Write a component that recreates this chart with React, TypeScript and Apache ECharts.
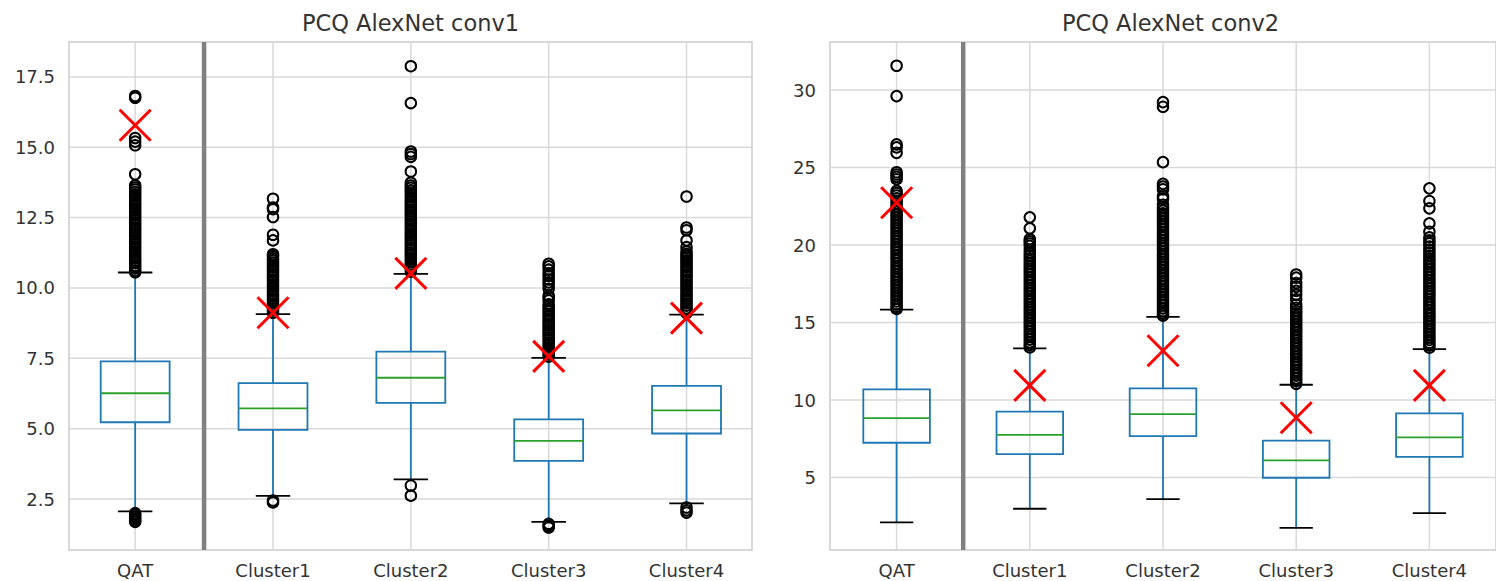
import React, { useEffect, useRef } from "react";
import * as echarts from "echarts";

const FONT = "DejaVu Sans";
const categories = ["QAT", "Cluster1", "Cluster2", "Cluster3", "Cluster4"];
const positions = [1, 2, 3, 4, 5];

const conv1Title = "PCQ AlexNet conv1";
const conv2Title = "PCQ AlexNet conv2";
const conv1Ticks = [2.5, 5, 7.5, 10, 12.5, 15, 17.5];
const conv2Ticks = [5, 10, 15, 20, 25, 30];

// [lower whisker, Q1, median, Q3, upper whisker]
const conv1Boxes = [
  [2.06, 5.23, 6.26, 7.39, 10.55],
  [2.61, 4.96, 5.72, 6.62, 9.07],
  [3.2, 5.92, 6.81, 7.74, 10.5],
  [1.69, 3.86, 4.57, 5.33, 7.52],
  [2.35, 4.83, 5.65, 6.52, 9.05],
];
const conv1Means = [15.78, 9.12, 10.52, 7.57, 8.93];

const conv1QatOut = [16.82, 16.76, 15.33, 15.2, 15.07, 14.04, 13.64, 13.57, 13.5, 13.41, 13.33, 13.26, 13.17, 13.09, 13.0, 12.92, 12.83, 12.75, 12.66, 12.58, 12.49, 12.41, 12.32, 12.24, 12.15, 12.07, 11.98, 11.9, 11.81, 11.73, 11.64, 11.56, 11.47, 11.39, 11.3, 11.22, 11.13, 11.05, 10.96, 10.88, 10.79, 10.71, 10.62, 10.56, 2.0, 1.94, 1.87, 1.81, 1.75, 1.69];
const conv1C1Out = [13.17, 12.86, 12.8, 12.52, 11.89, 11.69, 11.2, 11.13, 11.05, 10.98, 10.9, 10.81, 10.73, 10.64, 10.56, 10.47, 10.39, 10.3, 10.22, 10.13, 10.05, 9.96, 9.88, 9.79, 9.71, 9.62, 9.54, 9.45, 9.37, 9.28, 9.2, 9.12, 2.45, 2.38];
const conv1C2Out = [17.88, 16.57, 14.85, 14.76, 14.66, 14.14, 13.74, 13.64, 13.56, 13.47, 13.39, 13.3, 13.22, 13.13, 13.05, 12.96, 12.88, 12.79, 12.71, 12.62, 12.54, 12.45, 12.37, 12.28, 12.2, 12.11, 12.03, 11.94, 11.86, 11.77, 11.69, 11.6, 11.52, 11.43, 11.35, 11.26, 11.18, 11.09, 11.01, 10.92, 10.84, 10.75, 10.67, 10.58, 2.98, 2.62];
const conv1C3Out = [10.86, 10.77, 10.65, 10.52, 10.43, 10.3, 10.2, 10.1, 9.97, 9.73, 9.66, 9.56, 9.42, 9.34, 9.25, 9.17, 9.08, 9.0, 8.91, 8.83, 8.74, 8.66, 8.57, 8.49, 8.4, 8.32, 8.23, 8.15, 8.06, 7.98, 7.89, 7.81, 7.72, 7.64, 7.56, 1.62, 1.55, 1.49];
const conv1C4Out = [13.25, 12.15, 12.05, 11.69, 11.45, 11.3, 11.21, 11.14, 11.06, 10.98, 10.9, 10.81, 10.73, 10.64, 10.56, 10.47, 10.39, 10.3, 10.22, 10.13, 10.05, 9.96, 9.88, 9.79, 9.71, 9.62, 9.54, 9.45, 9.37, 9.28, 9.2, 9.11, 2.2, 2.1, 2.02];

const conv2Boxes = [
  [2.11, 7.25, 8.84, 10.69, 15.83],
  [2.99, 6.52, 7.76, 9.25, 13.33],
  [3.61, 7.68, 9.1, 10.75, 15.37],
  [1.76, 4.99, 6.11, 7.38, 10.99],
  [2.71, 6.34, 7.59, 9.14, 13.29],
];
const conv2Means = [22.73, 10.95, 13.18, 8.86, 10.95];

const conv2QatOut = [31.57, 29.61, 26.5, 26.3, 25.95, 24.7, 24.55, 24.4, 24.25, 23.5, 23.35, 23.2, 23.02, 22.85, 22.67, 22.5, 22.32, 22.14, 21.97, 21.8, 21.62, 21.44, 21.27, 21.1, 20.92, 20.74, 20.57, 20.4, 20.22, 20.04, 19.87, 19.7, 19.52, 19.34, 19.17, 19.0, 18.82, 18.64, 18.47, 18.3, 18.12, 17.94, 17.77, 17.6, 17.42, 17.24, 17.07, 16.9, 16.72, 16.54, 16.37, 16.2, 16.02, 15.88];
const conv2C1Out = [21.79, 21.08, 20.38, 20.24, 20.1, 19.95, 19.7, 19.5, 19.32, 19.15, 18.98, 18.8, 18.62, 18.45, 18.28, 18.1, 17.92, 17.75, 17.58, 17.4, 17.22, 17.05, 16.88, 16.7, 16.52, 16.35, 16.18, 16.0, 15.82, 15.65, 15.48, 15.3, 15.12, 14.95, 14.78, 14.6, 14.42, 14.25, 14.08, 13.9, 13.72, 13.55, 13.4];
const conv2C2Out = [29.22, 28.92, 25.35, 23.95, 23.78, 23.6, 23.15, 22.98, 22.6, 22.4, 22.22, 22.05, 21.88, 21.7, 21.52, 21.35, 21.18, 21.0, 20.82, 20.65, 20.48, 20.3, 20.12, 19.95, 19.78, 19.6, 19.42, 19.25, 19.08, 18.9, 18.72, 18.55, 18.38, 18.2, 18.02, 17.85, 17.68, 17.5, 17.32, 17.15, 16.98, 16.8, 16.62, 16.45, 16.28, 16.1, 15.92, 15.75, 15.58, 15.45];
const conv2C3Out = [18.1, 17.9, 17.55, 17.3, 17.05, 16.8, 16.5, 16.15, 15.95, 15.75, 15.6, 15.42, 15.25, 15.08, 14.9, 14.72, 14.55, 14.38, 14.2, 14.02, 13.85, 13.68, 13.5, 13.32, 13.15, 12.98, 12.8, 12.62, 12.45, 12.28, 12.1, 11.92, 11.75, 11.58, 11.4, 11.22, 11.05];
const conv2C4Out = [23.66, 22.84, 22.37, 21.4, 20.86, 20.5, 20.3, 20.12, 19.9, 19.68, 19.5, 19.3, 19.12, 18.95, 18.78, 18.6, 18.42, 18.25, 18.08, 17.9, 17.72, 17.55, 17.38, 17.2, 17.02, 16.85, 16.68, 16.5, 16.32, 16.15, 15.98, 15.8, 15.62, 15.45, 15.28, 15.1, 14.92, 14.75, 14.58, 14.4, 14.22, 14.05, 13.88, 13.7, 13.52, 13.38];

const conv1Outliers = [conv1QatOut, conv1C1Out, conv1C2Out, conv1C3Out, conv1C4Out];
const conv2Outliers = [conv2QatOut, conv2C1Out, conv2C2Out, conv2C3Out, conv2C4Out];

const BLUE = "#1f77b4";
const GREEN = "#2ca02c";
const GRIDC = "#d9d9d9";
const TEXTC = "#333333";

type Panel = {
  idx: number;
  left: number;
  width: number;
  xMin: number;
  xMax: number;
  yMin: number;
  yMax: number;
  ticks: number[];
  fmt: (v: number) => string;
  boxes: number[][];
  means: number[];
  outliers: number[][];
};

function panelParts(p: Panel) {
  const grid = {
    left: p.left,
    top: 42,
    width: p.width,
    height: 508,
    show: true,
    borderColor: "#cccccc",
    borderWidth: 1.5,
    backgroundColor: "#ffffff",
  };
  const xAxis = {
    type: "value",
    gridIndex: p.idx,
    min: p.xMin,
    max: p.xMax,
    axisLine: { show: false },
    axisTick: { show: false },
    splitLine: { show: false },
    axisLabel: {
      customValues: positions,
      formatter: (v: number) => categories[Math.round(v) - 1] ?? "",
      fontSize: 18,
      fontFamily: FONT,
      color: TEXTC,
      margin: 11,
    },
  };
  const yAxis = {
    type: "value",
    gridIndex: p.idx,
    min: p.yMin,
    max: p.yMax,
    axisLine: { show: false },
    axisTick: { show: false },
    splitLine: { show: false },
    axisLabel: {
      customValues: p.ticks,
      formatter: p.fmt,
      fontSize: 18,
      fontFamily: FONT,
      color: TEXTC,
      margin: 14,
    },
  };
  const base = { xAxisIndex: p.idx, yAxisIndex: p.idx, silent: true };
  const series: any[] = [
    {
      ...base,
      type: "custom",
      z: 1,
      data: positions.map((x) => [x, p.yMin]),
      renderItem: (params: any, api: any) => {
        const cs = params.coordSys;
        const x = api.coord([api.value(0), p.yMin])[0];
        return {
          type: "line",
          shape: { x1: x, y1: cs.y, x2: x, y2: cs.y + cs.height },
          style: { stroke: GRIDC, lineWidth: 1.5 },
        };
      },
    },
    {
      ...base,
      type: "custom",
      z: 1,
      data: p.ticks.map((t) => [p.xMin, t]),
      renderItem: (params: any, api: any) => {
        const cs = params.coordSys;
        const y = api.coord([p.xMin, api.value(1)])[1];
        return {
          type: "line",
          shape: { x1: cs.x, y1: y, x2: cs.x + cs.width, y2: y },
          style: { stroke: GRIDC, lineWidth: 1.5 },
        };
      },
    },
    {
      ...base,
      type: "custom",
      z: 2,
      data: [[1.5, p.yMin]],
      renderItem: (params: any, api: any) => {
        const cs = params.coordSys;
        const x = api.coord([api.value(0), p.yMin])[0];
        return {
          type: "rect",
          shape: { x: x - 2.25, y: cs.y, width: 4.5, height: cs.height },
          style: { fill: "#808080" },
        };
      },
    },
    {
      ...base,
      type: "custom",
      z: 3,
      data: p.boxes.map((b, i) => [positions[i], ...b]),
      renderItem: (params: any, api: any) => {
        const xv = api.value(0);
        const cx = api.coord([xv, p.yMin])[0];
        const yLo = api.coord([xv, api.value(1)])[1];
        const yQ1 = api.coord([xv, api.value(2)])[1];
        const yMed = api.coord([xv, api.value(3)])[1];
        const yQ3 = api.coord([xv, api.value(4)])[1];
        const yHi = api.coord([xv, api.value(5)])[1];
        const bw = api.size([0.5, 0], [xv, 0])[0] / 2;
        const cw = bw / 2;
        const lw = 1.8;
        return {
          type: "group",
          children: [
            { type: "line", shape: { x1: cx, y1: yQ3, x2: cx, y2: yHi }, style: { stroke: BLUE, lineWidth: lw } },
            { type: "line", shape: { x1: cx, y1: yQ1, x2: cx, y2: yLo }, style: { stroke: BLUE, lineWidth: lw } },
            { type: "line", shape: { x1: cx - cw, y1: yHi, x2: cx + cw, y2: yHi }, style: { stroke: "#000", lineWidth: lw } },
            { type: "line", shape: { x1: cx - cw, y1: yLo, x2: cx + cw, y2: yLo }, style: { stroke: "#000", lineWidth: lw } },
            {
              type: "rect",
              shape: { x: cx - bw, y: yQ3, width: 2 * bw, height: yQ1 - yQ3 },
              style: { fill: "none", stroke: BLUE, lineWidth: lw },
            },
            { type: "line", shape: { x1: cx - bw, y1: yMed, x2: cx + bw, y2: yMed }, style: { stroke: GREEN, lineWidth: lw } },
          ],
        };
      },
    },
    {
      ...base,
      type: "scatter",
      z: 4,
      symbol: "circle",
      symbolSize: 10.5,
      itemStyle: { color: "rgba(0,0,0,0)", borderColor: "#000", borderWidth: 2, opacity: 1 },
      data: p.outliers.flatMap((arr, i) => arr.map((v) => [positions[i], v])),
    },
    {
      ...base,
      type: "custom",
      z: 5,
      data: p.means.map((m, i) => [positions[i], m]),
      renderItem: (params: any, api: any) => {
        const pt = api.coord([api.value(0), api.value(1)]);
        const h = 15.5;
        return {
          type: "group",
          children: [
            { type: "line", shape: { x1: pt[0] - h, y1: pt[1] - h, x2: pt[0] + h, y2: pt[1] + h }, style: { stroke: "#ff0000", lineWidth: 3 } },
            { type: "line", shape: { x1: pt[0] - h, y1: pt[1] + h, x2: pt[0] + h, y2: pt[1] - h }, style: { stroke: "#ff0000", lineWidth: 3 } },
          ],
        };
      },
    },
  ];
  return { grid, xAxis, yAxis, series };
}

export default function App() {
  const ref = useRef<HTMLDivElement>(null);
  useEffect(() => {
    if (!ref.current) return;
    const chart = echarts.init(ref.current, undefined, { renderer: "svg" });
    const p1 = panelParts({
      idx: 0,
      left: 69,
      width: 683,
      xMin: 0.52,
      xMax: 5.475,
      yMin: 0.69,
      yMax: 18.74,
      ticks: conv1Ticks,
      fmt: (v: number) => v.toFixed(1),
      boxes: conv1Boxes,
      means: conv1Means,
      outliers: conv1Outliers,
    });
    const p2 = panelParts({
      idx: 1,
      left: 830,
      width: 681,
      xMin: 0.5,
      xMax: 5.5,
      yMin: 0.33,
      yMax: 33.1,
      ticks: conv2Ticks,
      fmt: (v: number) => String(Math.round(v)),
      boxes: conv2Boxes,
      means: conv2Means,
      outliers: conv2Outliers,
    });
    chart.setOption({
      animation: false,
      backgroundColor: "#ffffff",
      textStyle: { fontFamily: FONT },
      grid: [p1.grid, p2.grid],
      xAxis: [p1.xAxis, p2.xAxis],
      yAxis: [p1.yAxis, p2.yAxis],
      series: [...p1.series, ...p2.series],
      graphic: [
        {
          type: "text",
          x: 410.5,
          y: 23,
          style: { text: conv1Title, align: "center", verticalAlign: "middle", fontSize: 22.5, fontFamily: FONT, fill: TEXTC },
        },
        {
          type: "text",
          x: 1170.5,
          y: 23,
          style: { text: conv2Title, align: "center", verticalAlign: "middle", fontSize: 22.5, fontFamily: FONT, fill: TEXTC },
        },
      ],
    });
    return () => chart.dispose();
  }, []);
  return (
    <div
      ref={ref}
      style={{ position: "fixed", left: 0, top: 0, width: 1496, height: 581, background: "#fff" }}
    />
  );
}
